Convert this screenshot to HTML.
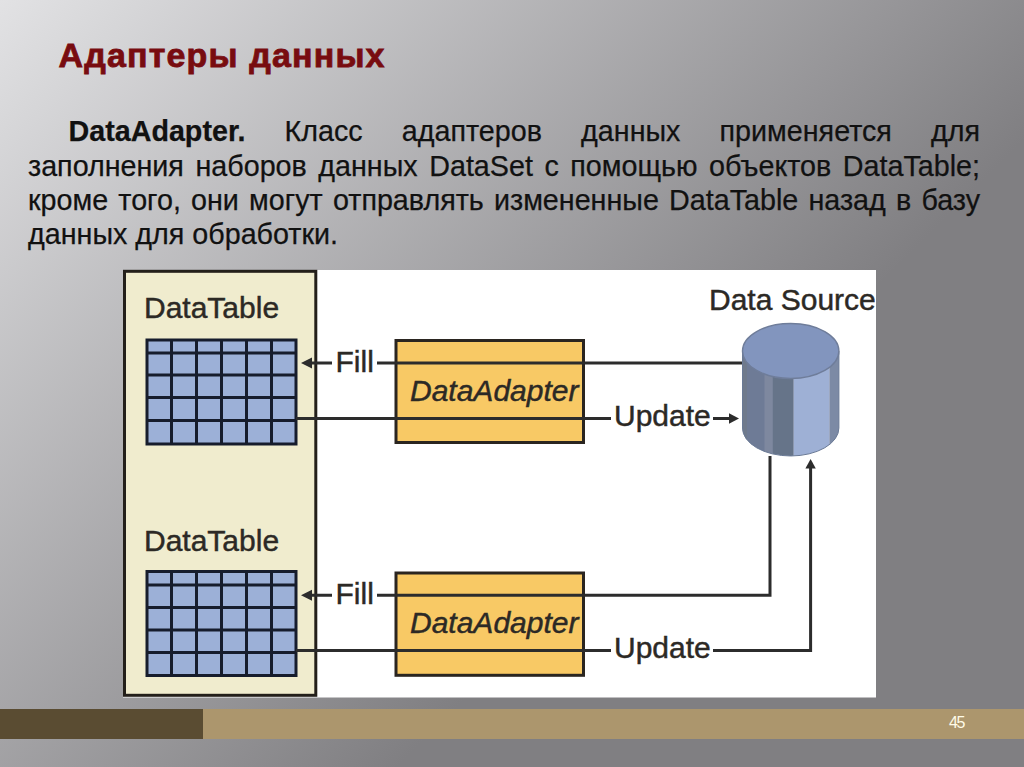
<!DOCTYPE html>
<html><head><meta charset="utf-8">
<style>
html,body{margin:0;padding:0;}
body{width:1024px;height:767px;overflow:hidden;position:relative;
 background:linear-gradient(135deg,#e2e2e4 0%,#807f82 65%,#807f82 100%);
 font-family:"Liberation Sans",sans-serif;}
#title{position:absolute;left:58.5px;top:35px;font-size:34px;letter-spacing:1.15px;-webkit-text-stroke:0.8px #780c10;font-weight:bold;color:#780c10;white-space:nowrap;line-height:40px;}
.pl{position:absolute;left:28px;width:952px;font-size:28.7px;color:#111;-webkit-text-stroke:0.25px #111;white-space:nowrap;line-height:34.33px;text-align:justify;text-align-last:justify;}
.pl.last{text-align:left;text-align-last:left;}
#bar1{position:absolute;left:0;top:709px;width:203px;height:30px;background:#5a4c32;}
#bar2{position:absolute;left:203px;top:709px;width:821px;height:30px;background:#ac966d;}
#pnum{position:absolute;left:949px;top:714px;font-size:16px;letter-spacing:-1.3px;color:#fffbe8;line-height:17px;}
svg{position:absolute;left:0;top:0;}
</style></head><body>
<div id="title">Адаптеры данных</div>
<div class="pl" style="top:114.45px;left:68.5px;width:911.5px;"><b>DataAdapter.</b> Класс адаптеров данных применяется для</div>
<div class="pl" style="top:148.78px;">заполнения наборов данных DataSet с помощью объектов DataTable;</div>
<div class="pl" style="top:183.11px;">кроме того, они могут отправлять измененные DataTable назад в базу</div>
<div class="pl last" style="top:217.2px;">данных для обработки.</div>

<svg width="1024" height="767" viewBox="0 0 1024 767">
 <rect x="123" y="270" width="753" height="427.5" fill="#ffffff"/>
 <!-- beige panel -->
 <rect x="124.5" y="271.3" width="191.3" height="424" fill="#f0ecce" stroke="#231f1a" stroke-width="3"/>
 <g font-family="Liberation Sans" font-size="30" fill="#2c2925" stroke="#2c2925" stroke-width="0.45">
  <text x="144" y="318">DataTable</text>
  <text x="144" y="551">DataTable</text>
 </g>
 <!-- grids -->
 <g fill="#9cb0d7" stroke="#161c2c" stroke-width="3">
  <rect x="147" y="340" width="149" height="104"/>
  <rect x="147" y="571.5" width="149" height="104"/>
 </g>
 <g stroke="#161c2c" stroke-width="3">
  <path d="M171.5 340V444M196.5 340V444M221.5 340V444M246.5 340V444M271.5 340V444"/>
  <path d="M147 353H296M147 375H296M147 397.5H296M147 420.5H296"/>
  <path d="M171.5 571.5V675.5M196.5 571.5V675.5M221.5 571.5V675.5M246.5 571.5V675.5M271.5 571.5V675.5"/>
  <path d="M147 585H296M147 607.5H296M147 630H296M147 652.5H296"/>
 </g>
 <!-- yellow boxes -->
 <g fill="#f8c965" stroke="#2a2520" stroke-width="3">
  <rect x="396" y="340.5" width="187.5" height="102"/>
  <rect x="396" y="573" width="187.5" height="102.3"/>
 </g>
 <!-- lines -->
 <g stroke="#2c2c2c" stroke-width="3" fill="none">
  <path d="M311 363H332M377 363H743"/>
  <path d="M296 418.5H611M713 418.5H730"/>
  <path d="M311 595.3H332M377 595.3H770V456"/>
  <path d="M296 650.5H611M713 650.5H810.6V466"/>
 </g>
 <g fill="#2c2c2c">
  <path d="M301 363L312 357.5V368.5Z"/>
  <path d="M301 595.3L312 589.8V600.8Z"/>
  <path d="M739 418.5L729 413.3V423.7Z"/>
  <path d="M810.6 459L805.4 468.5H815.8Z"/>
 </g>
 <g font-family="Liberation Sans" font-size="30" fill="#2c2925" stroke="#2c2925" stroke-width="0.45">
  <text x="335.5" y="372">Fill</text>
  <text x="335.5" y="604">Fill</text>
  <text x="614" y="426">Update</text>
  <text x="614" y="658">Update</text>
  <text x="709" y="310">Data Source</text>
 </g>
 <g font-family="Liberation Sans" font-size="30" font-style="italic" fill="#2c2925" stroke="#2c2925" stroke-width="0.45">
  <text x="410" y="401">DataAdapter</text>
  <text x="410" y="633">DataAdapter</text>
 </g>
 <!-- cylinder -->
 <defs><clipPath id="cb"><path d="M742.5 351V428A48.2 28 0 0 0 838.9 428V351Z"/></clipPath></defs>
 <g clip-path="url(#cb)">
  <rect x="742" y="340" width="23" height="130" fill="#6e7b96"/>
  <rect x="742" y="340" width="5" height="130" fill="#6f7a8c"/>
  <rect x="764.5" y="340" width="8.5" height="130" fill="#7e889f"/>
  <rect x="772.8" y="340" width="21" height="130" fill="#667489"/>
  <rect x="793.7" y="340" width="35.8" height="130" fill="#9eb0d5"/>
  <rect x="829.4" y="340" width="10" height="130" fill="#7c8aa5"/>
 </g>
 <path d="M742.5 351V428A48.2 28 0 0 0 838.9 428V351" fill="none" stroke="#6a7a96" stroke-width="1"/>
 <ellipse cx="790.7" cy="351" rx="48.2" ry="27.5" fill="#8295be" stroke="#6f7d9a" stroke-width="1.4"/>
</svg>

<div id="bar1"></div><div id="bar2"></div>
<div id="pnum">45</div>
</body></html>
